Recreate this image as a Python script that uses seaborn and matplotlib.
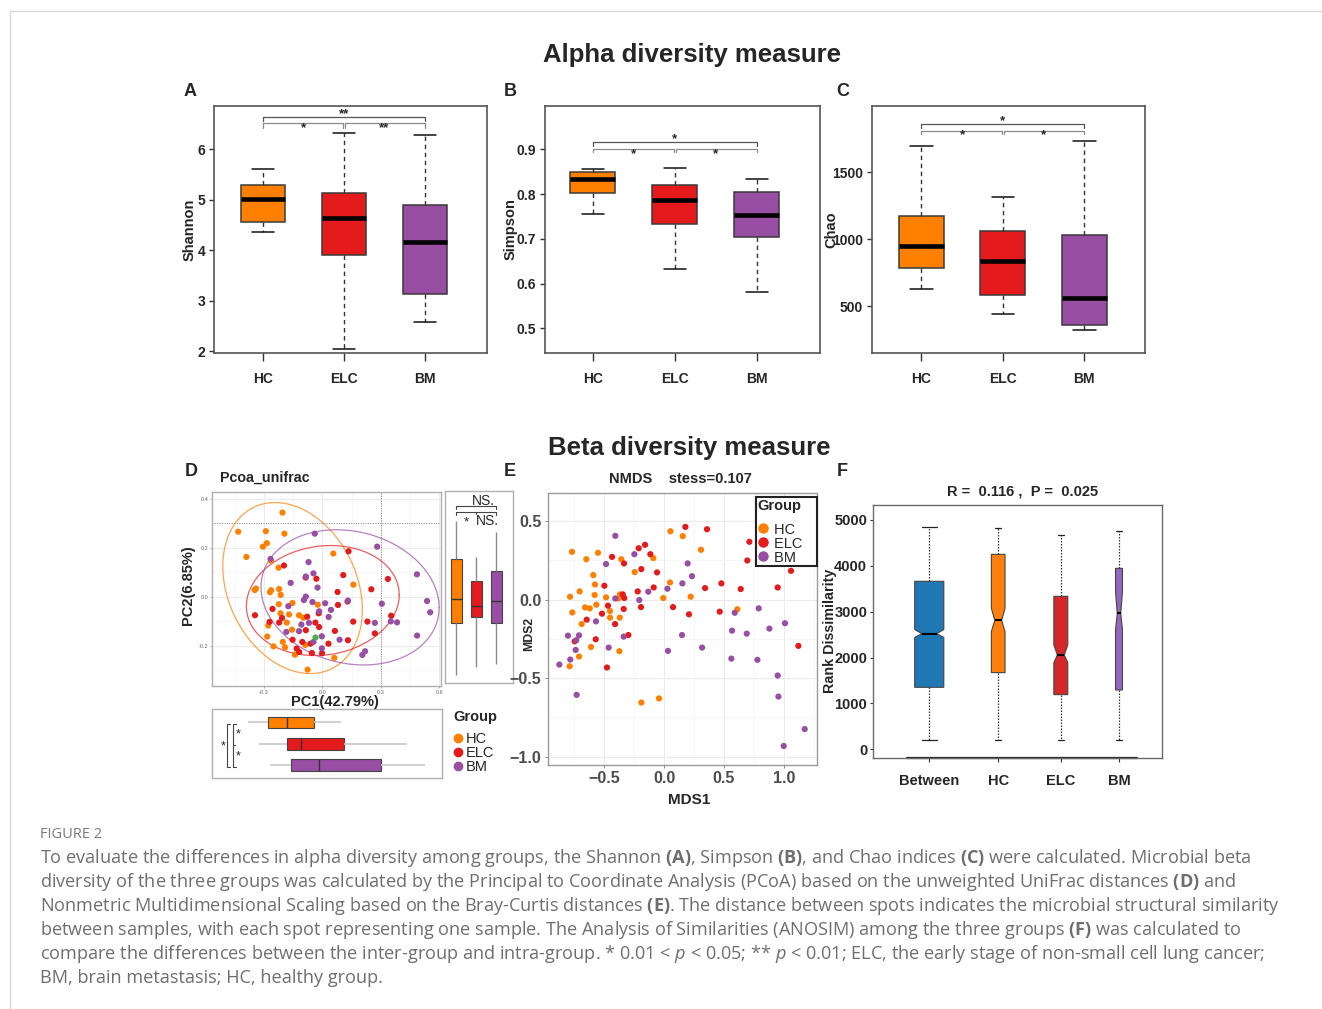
import numpy as np
import pandas as pd
import matplotlib
matplotlib.use("Agg")
import matplotlib.pyplot as plt
import seaborn as sns
from matplotlib.lines import Line2D

# ------------------------------------------------------------------ data
GROUPS = ["HC", "ELC", "BM"]
PAL = {"HC": "#FF7F00", "ELC": "#E41A1C", "BM": "#984EA3"}

# five-number summaries: [low whisker, Q1, median, Q3, high whisker]
SHANNON = {"HC": [4.37, 4.57, 5.02, 5.29, 5.60],
           "ELC": [2.04, 3.90, 4.64, 5.14, 6.32],
           "BM": [2.58, 3.14, 4.16, 4.90, 6.28]}
SIMPSON = {"HC": [0.756, 0.803, 0.834, 0.849, 0.856],
           "ELC": [0.632, 0.733, 0.787, 0.821, 0.858],
           "BM": [0.582, 0.705, 0.754, 0.804, 0.833]}
CHAO = {"HC": [631, 788, 945, 1172, 1694],
        "ELC": [443, 582, 836, 1060, 1318],
        "BM": [324, 358, 562, 1030, 1736]}

# PCoA (unweighted UniFrac) sample coordinates
D_HC_X = [-0.205, -0.432, -0.290, -0.195, -0.285, -0.305, -0.390, -0.264, -0.225, 0.056, 0.159, -0.347,
          -0.341, -0.263, -0.222, -0.269, -0.214, -0.224, -0.154, -0.024, -0.215, -0.171, -0.120, -0.098,
          -0.183, -0.278, -0.156, -0.283, -0.203, -0.251, -0.192, -0.088, -0.141, 0.061, -0.076]
D_HC_Y = [0.343, 0.265, 0.267, 0.257, 0.218, 0.204, 0.162, 0.147, 0.118, 0.176, 0.049, 0.027,
          0.033, 0.026, 0.031, 0.018, 0.007, -0.031, -0.026, -0.033, -0.068, -0.073, -0.076, -0.086,
          -0.106, -0.118, -0.135, -0.163, -0.185, -0.203, -0.207, -0.197, -0.237, -0.250, -0.298]
D_ELC_X = [0.134, -0.197, 0.107, -0.031, -0.086, 0.336, 0.251, 0.078, 0.129, 0.080, -0.256, -0.346,
           -0.207, -0.078, -0.271, -0.222, -0.036, -0.017, 0.158, 0.231, 0.353, -0.085, 0.064, 0.269,
           -0.153, -0.103, 0.131, 0.031, -0.132, -0.119, -0.054, -0.002, -0.061, -0.019]
D_ELC_Y = [0.185, 0.127, 0.088, 0.073, 0.078, 0.072, 0.030, 0.019, -0.020, -0.034, -0.050, -0.076,
           -0.087, -0.082, -0.103, -0.106, -0.106, -0.124, -0.102, -0.102, -0.078, -0.137, -0.140, -0.150,
           -0.176, -0.185, -0.178, -0.192, -0.212, -0.226, -0.230, -0.231, -0.192, -0.068]
D_BM_X = [-0.039, 0.281, -0.266, -0.071, -0.046, -0.085, -0.163, -0.025, -0.085, -0.095, -0.051, 0.014,
          0.131, -0.175, -0.017, 0.044, 0.032, 0.305, 0.485, 0.537, 0.553, 0.351, 0.269, 0.383,
          -0.108, -0.069, -0.185, -0.120, -0.003, -0.046, 0.088, -0.003, 0.219, 0.205, 0.486]
D_BM_Y = [0.257, 0.204, 0.154, 0.141, 0.095, 0.082, 0.056, 0.037, 0.000, -0.014, -0.022, -0.027,
          -0.016, -0.039, -0.060, -0.054, -0.083, -0.029, 0.091, -0.018, -0.064, -0.101, -0.107, -0.105,
          -0.114, -0.107, -0.144, -0.141, -0.162, -0.185, -0.176, -0.211, -0.223, -0.238, -0.159]
D_GREEN_X = [-0.039]
D_GREEN_Y = [-0.166]

# confidence ellipses: [centre x, centre y, half-width x, half-height y, xy term]
D_ELLIPSE = {"HC": [-0.153, 0.035, 0.358, 0.349, -0.0315],
             "ELC": [0.002, -0.016, 0.392, 0.2245, 0.009],
             "BM": [0.142, -0.003, 0.457, 0.276, -0.019]}

# marginal box summaries (PC2 on the right, PC1 below)
D_PC2 = {"HC": [-0.321, -0.109, -0.009, 0.155, 0.308],
         "ELC": [-0.288, -0.083, -0.039, 0.063, 0.162],
         "BM": [-0.275, -0.107, -0.019, 0.104, 0.263]}
D_PC1 = {"HC": [-0.384, -0.278, -0.184, -0.046, 0.092],
         "ELC": [-0.324, -0.181, -0.113, 0.111, 0.430],
         "BM": [-0.268, -0.162, -0.017, 0.297, 0.523]}

# NMDS (Bray-Curtis) coordinates
E_HC_X = [-0.767, -0.647, -0.550, -0.356, -0.089, 0.053, 0.156, 0.308, -0.244, 0.050, -0.589, -0.575,
          -0.703, -0.783, -0.578, -0.483, -0.367, -0.381, -0.006, 0.222, -0.764, -0.658, -0.619, -0.564,
          -0.450, -0.450, -0.369, -0.686, -0.608, -0.708, -0.372, -0.786, -0.189, -0.042, 0.611]
E_HC_Y = [0.305, 0.258, 0.299, 0.258, 0.265, 0.436, 0.405, 0.318, 0.176, 0.110, 0.157, 0.097,
          0.053, 0.019, 0.030, 0.015, 0.034, 0.008, 0.011, 0.019, -0.081, -0.049, -0.055, -0.032,
          -0.072, -0.114, -0.114, -0.155, -0.301, -0.362, -0.328, -0.424, -0.655, -0.629, -0.061]
E_ELC_X = [0.178, 0.358, -0.158, -0.211, -0.114, -0.433, -0.333, -0.189, -0.058, -0.086, -0.219, -0.497,
           -0.344, -0.331, -0.467, -0.192, -0.336, -0.517, -0.408, -0.644, -0.297, -0.569, -0.744, -0.475,
           0.075, 0.208, 0.342, 0.478, 0.639, 0.464, 0.711, 0.694, 0.947, 1.058, 1.119]
E_ELC_Y = [0.464, 0.449, 0.350, 0.328, 0.290, 0.273, 0.231, 0.195, 0.174, 0.078, 0.053, 0.089,
           0.034, 0.011, -0.038, -0.047, -0.059, -0.089, -0.155, -0.127, -0.225, -0.252, -0.265, -0.432,
           -0.047, -0.093, 0.074, 0.104, 0.068, -0.076, 0.369, 0.250, 0.078, 0.184, -0.294]
E_BM_X = [-0.406, -0.247, -0.483, 0.197, 0.233, 0.153, 0.028, -0.131, -0.206, -0.406, 0.589, 0.789,
          -0.567, -0.800, -0.708, -0.731, -0.736, -0.781, -0.872, -0.728, -0.336, -0.461, 0.033, 0.150,
          0.317, 0.567, 0.689, 0.878, 1.008, 0.561, 0.778, 0.947, 0.953, 1.172, 0.997]
E_BM_Y = [0.407, 0.290, 0.227, 0.231, 0.150, 0.104, 0.070, 0.051, -0.002, 0.008, -0.083, -0.055,
          -0.138, -0.229, -0.227, -0.258, -0.320, -0.381, -0.413, -0.606, -0.235, -0.305, -0.326, -0.225,
          -0.305, -0.197, -0.216, -0.184, -0.150, -0.375, -0.383, -0.483, -0.617, -0.824, -0.932]

# ANOSIM rank dissimilarity
F_GROUPS = ["Between", "HC", "ELC", "BM"]
F_COLORS = ["#1f77b4", "#ff7f0e", "#d62728", "#9467bd"]
F_LOW = [203, 203, 203, 203]
F_Q1 = [1352, 1672, 1192, 1294]
F_MED = [2522, 2812, 2057, 2965]
F_Q3 = [3663, 4251, 3336, 3946]
F_HIGH = [4840, 4818, 4673, 4767]
F_CILO = [2440, 2565, 1890, 2602]
F_CIHI = [2610, 3074, 2275, 3437]

CAPTION = [
    r"To evaluate the differences in alpha diversity among groups, the Shannon $\mathbf{(A)}$, Simpson $\mathbf{(B)}$, and Chao indices $\mathbf{(C)}$ were calculated. Microbial beta",
    r"diversity of the three groups was calculated by the Principal to Coordinate Analysis (PCoA) based on the unweighted UniFrac distances $\mathbf{(D)}$ and",
    r"Nonmetric Multidimensional Scaling based on the Bray-Curtis distances $\mathbf{(E)}$. The distance between spots indicates the microbial structural similarity",
    r"between samples, with each spot representing one sample. The Analysis of Similarities (ANOSIM) among the three groups $\mathbf{(F)}$ was calculated to",
    r"compare the differences between the inter-group and intra-group. * 0.01 < $\mathit{p}$ < 0.05; ** $\mathit{p}$ < 0.01; ELC, the early stage of non-small cell lung cancer;",
    r"BM, brain metastasis; HC, healthy group.",
]

# ------------------------------------------------------------------ style
sns.set_theme(style="white")
plt.rcParams["font.family"] = ["Liberation Sans", "DejaVu Sans"]
plt.rcParams["mathtext.fontset"] = "custom"
plt.rcParams["mathtext.rm"] = "Open Sans"
plt.rcParams["mathtext.bf"] = "Open Sans:bold"
plt.rcParams["mathtext.it"] = "Open Sans:italic"

W, H = 1322, 1009
fig = plt.figure(figsize=(W / 100, H / 100), dpi=100)
fig.patch.set_facecolor("white")


def px_axes(x0, y0, x1, y1):
    return fig.add_axes([x0 / W, 1 - y1 / H, (x1 - x0) / W, (y1 - y0) / H])


def ftext(x, y, s, **kw):
    return fig.text(x / W, 1 - y / H, s, **kw)


def five_df(summary, key="value"):
    return pd.DataFrame({"group": np.repeat(GROUPS, 5),
                         key: np.concatenate([summary[g] for g in GROUPS])})


# card frame
fig.add_artist(Line2D([10 / W, 1], [1 - 11 / H] * 2, color="#d9d9d9", lw=1))
fig.add_artist(Line2D([10 / W] * 2, [0, 1 - 11 / H], color="#d9d9d9", lw=1))

ftext(692, 55, "Alpha diversity measure", ha="center", va="center", weight="bold", size=18.5)
ftext(689, 448, "Beta diversity measure", ha="center", va="center", weight="bold", size=18.5)


# ------------------------------------------------------------------ alpha panels
def alpha_panel(box, summary, xlim, ylim, yticks, ylabel, ylab_x, br):
    ax = px_axes(*box)
    sns.boxplot(data=five_df(summary), x="group", y="value", hue="group", order=GROUPS,
                hue_order=GROUPS, palette=PAL, whis=np.inf, width=0.55, linewidth=1.1,
                linecolor="#3a3a3a", fliersize=0, legend=False, saturation=1,
                whiskerprops=dict(color="#333333", linestyle=(0, (3.2, 2.6)), linewidth=1.0),
                capprops=dict(color="#111111", linewidth=1.1),
                medianprops=dict(color="black", linewidth=3.3),
                ax=ax)
    ax.set_xlim(*xlim)
    ax.set_ylim(*ylim)
    ax.set_yticks(yticks)
    ax.set_yticklabels([str(t) for t in yticks])
    for s in ax.spines.values():
        s.set_visible(True)
        s.set_color("#555555")
        s.set_linewidth(1.2)
    ax.tick_params(axis="y", direction="out", length=3.8, width=1, color="#333333",
                   labelsize=10, pad=2.5, left=True)
    ax.tick_params(axis="x", direction="out", length=5.5, width=1, color="#333333",
                   labelsize=10, pad=8, bottom=True)
    for lab in ax.get_xticklabels() + ax.get_yticklabels():
        lab.set_fontweight("bold")
    ax.set_xlabel("")
    ax.set_ylabel(ylabel, weight="bold", size=10.5)
    ax.yaxis.set_label_coords(ylab_x, 0.5)
    # significance brackets
    top, topd, low, lowd, st_top, st_low, labs = br
    ax.plot([0, 0, 2, 2], [topd, top, top, topd], color="#555555", lw=0.9)
    ax.plot([0, 0, 0.985, 0.985], [lowd, low, low, lowd], color="#8a8a8a", lw=0.9)
    ax.plot([1.015, 1.015, 2, 2], [lowd, low, low, lowd], color="#8a8a8a", lw=0.9)
    ax.text(1, st_top, labs[0], ha="center", va="center", size=9.5, weight="bold")
    ax.text(0.5, st_low, labs[1], ha="center", va="center", size=9.5, weight="bold")
    ax.text(1.5, st_low, labs[2], ha="center", va="center", size=9.5, weight="bold")
    return ax


alpha_panel((214, 106, 487, 353), SHANNON, (-0.609, 2.77), (1.968, 6.856), [2, 3, 4, 5, 6],
            "Shannon", -0.062, (6.63, 6.55, 6.51, 6.43, 6.70, 6.41, ["**", "*", "**"]))
alpha_panel((545, 106, 820, 353), SIMPSON, (-0.585, 2.77), (0.445, 0.9965), [0.5, 0.6, 0.7, 0.8, 0.9],
            "Simpson", -0.098, (0.9156, 0.908, 0.900, 0.893, 0.9225, 0.889, ["*", "*", "*"]))
alpha_panel((872, 106, 1145, 353), CHAO, (-0.605, 2.744), (149, 1995), [500, 1000, 1500],
            "Chao", -0.123, (1858, 1833, 1811, 1786, 1880, 1780, ["*", "*", "*"]))

for (x, y, s) in [(190, 91, "A"), (510, 91, "B"), (843, 91, "C"),
                  (191, 471, "D"), (510, 471, "E"), (842, 471, "F")]:
    ftext(x, y, s, ha="center", va="center", weight="bold", size=13)

# ------------------------------------------------------------------ D: PCoA
axd = px_axes(211.7, 492, 440.7, 686.3)
dfd = pd.concat([
    pd.DataFrame({"x": D_HC_X, "y": D_HC_Y, "group": "HC"}),
    pd.DataFrame({"x": D_ELC_X, "y": D_ELC_Y, "group": "ELC"}),
    pd.DataFrame({"x": D_BM_X, "y": D_BM_Y, "group": "BM"}),
], ignore_index=True)
axd.set_xlim(-0.568, 0.607)
axd.set_ylim(-0.366, 0.427)
axd.set_xticks([-0.3, 0.0, 0.3, 0.6])
axd.set_xticklabels(["-0.3", "0.0", "0.3", "0.6"])
axd.set_xticks([-0.45, -0.15, 0.15, 0.45], minor=True)
axd.set_yticks([-0.2, 0.0, 0.2, 0.4])
axd.set_yticklabels(["-0.2", "0.0", "0.2", "0.4"])
axd.set_yticks([-0.3, -0.1, 0.1, 0.3], minor=True)
axd.grid(which="major", color="#ebebeb", lw=0.8)
axd.grid(which="minor", color="#f3f3f3", lw=0.5)
axd.set_axisbelow(True)
axd.tick_params(which="major", labelsize=4, labelcolor="#666666", length=1.5, width=0.5,
                color="#888888", pad=1, left=True, bottom=True)
axd.tick_params(which="minor", length=0)
for s in axd.spines.values():
    s.set_color("#b0b0b0")
    s.set_linewidth(1.0)
axd.axhline(0.3, color="#888888", lw=0.7, ls=(0, (1, 1.5)))
axd.axvline(0.3, color="#888888", lw=0.7, ls=(0, (1, 1.5)))

theta = np.linspace(0, 2 * np.pi, 160)
unit = np.column_stack([np.cos(theta), np.sin(theta)])
for g in GROUPS:
    cx, cy, hx, hy, sxy = D_ELLIPSE[g]
    L = np.linalg.cholesky(np.array([[hx ** 2, sxy], [sxy, hy ** 2]]))
    ell = np.array([cx, cy]) + unit @ L.T
    axd.plot(ell[:, 0], ell[:, 1], color=PAL[g], lw=0.9, alpha=0.7)

sns.scatterplot(data=dfd, x="x", y="y", hue="group", palette=PAL, s=20, linewidth=0,
                legend=False, ax=axd, zorder=3)
sns.scatterplot(x=D_GREEN_X, y=D_GREEN_Y, color="#4DAF4A", s=20, linewidth=0, ax=axd, zorder=3)
axd.set_xlabel("")
axd.set_ylabel("")
ftext(220, 478, "Pcoa_unifrac", ha="left", va="center", weight="bold", size=10.3)
ftext(335, 702, "PC1(42.79%)", ha="center", va="center", weight="bold", size=10.5)
ftext(188, 585, "PC2(6.85%)", ha="center", va="center", weight="bold", size=10.5, rotation=90)

# right marginal (PC2)
axr = px_axes(444.7, 491.3, 512.7, 683)
sns.boxplot(data=five_df(D_PC2), x="group", y="value", hue="group", order=GROUPS, hue_order=GROUPS,
            palette=PAL, whis=np.inf, width=0.55, linewidth=0.8, linecolor="#444444", fliersize=0,
            legend=False, saturation=1,
            whiskerprops=dict(color="#8c8c8c", linewidth=1.0),
            capprops=dict(linewidth=0),
            medianprops=dict(color="#333333", linewidth=1.0), ax=axr)
axr.set_xlim(-0.565, 2.835)
axr.set_ylim(-0.352, 0.430)
axr.set_xticks([])
axr.set_yticks([])
axr.set_xlabel("")
axr.set_ylabel("")
for s in axr.spines.values():
    s.set_color("#b0b0b0")
    s.set_linewidth(1.0)
axr.plot([0, 0, 2, 2], [0.358, 0.370, 0.370, 0.358], color="#444444", lw=0.8)
axr.plot([0, 0, 2, 2], [0.334, 0.346, 0.346, 0.334], color="#444444", lw=0.8)
axr.plot([1, 1], [0.346, 0.336], color="#444444", lw=0.8)
axr.text(1.37, 0.392, "NS.", ha="center", va="center", size=10)
axr.text(0.5, 0.303, "*", ha="center", va="center", size=9.5)
axr.text(1.55, 0.308, "NS.", ha="center", va="center", size=10)

# bottom marginal (PC1)
axb = px_axes(211.7, 709, 441.7, 777.7)
sns.boxplot(data=five_df(D_PC1), y="group", x="value", hue="group", order=GROUPS, hue_order=GROUPS,
            palette=PAL, whis=np.inf, width=0.55, linewidth=0.8, linecolor="#444444", fliersize=0,
            legend=False, saturation=1, orient="y",
            whiskerprops=dict(color="#c8c8c8", linewidth=1.2),
            capprops=dict(linewidth=0),
            medianprops=dict(color="#333333", linewidth=1.0), ax=axb)
axb.set_xlim(-0.568, 0.609)
axb.set_ylim(2.6, -0.635)
axb.set_xticks([])
axb.set_yticks([])
axb.set_xlabel("")
axb.set_ylabel("")
for s in axb.spines.values():
    s.set_color("#b0b0b0")
    s.set_linewidth(1.0)
axb.plot([-0.474, -0.488, -0.488, -0.474], [0.07, 0.07, 2.09, 2.09], color="#444444", lw=0.8)
axb.plot([-0.443, -0.457, -0.457, -0.443], [0.07, 0.07, 2.09, 2.09], color="#444444", lw=0.8)
axb.plot([-0.457, -0.447], [1.06, 1.06], color="#444444", lw=0.8)
axb.text(-0.508, 1.15, "*", ha="center", va="center", size=9)
axb.text(-0.43, 0.55, "*", ha="center", va="center", size=9)
axb.text(-0.43, 1.62, "*", ha="center", va="center", size=9)

handles = [Line2D([], [], marker="o", ls="", markersize=7, markerfacecolor=PAL[g],
                  markeredgewidth=0) for g in GROUPS]
legd = fig.legend(handles, GROUPS, title="Group", loc="upper left",
                  bbox_to_anchor=(443 / W, 1 - 699.5 / H), frameon=False, alignment="left",
                  title_fontproperties={"weight": "bold", "size": 10.5}, fontsize=10.5,
                  handlelength=0.6, handletextpad=0.25, labelspacing=0.0, borderpad=0.2)
legd._legend_box.sep = 6

# ------------------------------------------------------------------ E: NMDS
axe = px_axes(547.7, 493.3, 816.7, 765)
dfe = pd.concat([
    pd.DataFrame({"x": E_HC_X, "y": E_HC_Y, "group": "HC"}),
    pd.DataFrame({"x": E_ELC_X, "y": E_ELC_Y, "group": "ELC"}),
    pd.DataFrame({"x": E_BM_X, "y": E_BM_Y, "group": "BM"}),
], ignore_index=True)
sns.scatterplot(data=dfe, x="x", y="y", hue="group", palette=PAL, s=20, linewidth=0,
                legend=False, ax=axe, zorder=3)
axe.set_xlim(-0.969, 1.272)
axe.set_ylim(-1.053, 0.678)
axe.set_xticks([-0.5, 0.0, 0.5, 1.0])
axe.set_xticklabels(["\u22120.5", "0.0", "0.5", "1.0"])
axe.set_xticks([-0.75, -0.25, 0.25, 0.75, 1.25], minor=True)
axe.set_yticks([-1.0, -0.5, 0.0, 0.5])
axe.set_yticklabels(["\u22121.0", "\u22120.5", "0.0", "0.5"])
axe.set_yticks([-0.75, -0.25, 0.25], minor=True)
axe.grid(which="major", color="#ebebeb", lw=0.8)
axe.grid(which="minor", color="#f4f4f4", lw=0.5)
axe.set_axisbelow(True)
axe.tick_params(which="major", labelsize=11.5, labelcolor="#4d4d4d", length=2.5, width=0.6,
                color="#777777", pad=2, left=True, bottom=True)
axe.tick_params(which="minor", length=0)
for lab in axe.get_xticklabels() + axe.get_yticklabels():
    lab.set_fontweight("bold")
for s in axe.spines.values():
    s.set_color("#9a9a9a")
    s.set_linewidth(1.0)
axe.set_xlabel("")
axe.set_ylabel("")
ftext(689, 800, "MDS1", ha="center", va="center", weight="bold", size=11)
ftext(529, 634, "MDS2", ha="center", va="center", weight="bold", size=8.8, rotation=90)
ftext(680, 479, "NMDS    stess=0.107", ha="center", va="center", weight="bold", size=10.5)
hdl_e = [Line2D([], [], marker="o", ls="", markersize=7.5, markerfacecolor=PAL[g],
                markeredgewidth=0) for g in GROUPS]
lege = axe.legend(hdl_e, [g + "   " for g in GROUPS], title="Group", loc="upper right",
                  bbox_to_anchor=(1.0, 0.986),
                  frameon=True, fancybox=False, alignment="left", framealpha=1,
                  title_fontproperties={"weight": "bold", "size": 10.5}, fontsize=10.5,
                  handlelength=0.7, handletextpad=0.45, labelspacing=0.0, borderpad=0.12,
                  borderaxespad=0)
lege._legend_box.sep = 7
lege.get_frame().set_edgecolor("#222222")
lege.get_frame().set_linewidth(1.5)
lege.set_zorder(5)

# ------------------------------------------------------------------ F: ANOSIM
axf = px_axes(872.7, 505, 1161.7, 757.7)
F_POS = [1.0, 2.09, 3.08, 4.0]
F_WID = [0.46, 0.216, 0.22, 0.11]
F_CAP = [0.24, 0.1, 0.1, 0.08]
stats = [dict(label=g, whislo=lo, q1=q1, med=md, q3=q3, whishi=hi, cilo=cl, cihi=ch, fliers=[])
         for g, lo, q1, md, q3, hi, cl, ch in zip(F_GROUPS, F_LOW, F_Q1, F_MED, F_Q3, F_HIGH, F_CILO, F_CIHI)]
bp = axf.bxp(stats, positions=F_POS, widths=F_WID, capwidths=F_CAP, patch_artist=True,
             shownotches=True, showfliers=False, manage_ticks=False,
             boxprops=dict(edgecolor="#444444", linewidth=0.8),
             whiskerprops=dict(color="#333333", linestyle=(0, (1.2, 1.2)), linewidth=0.9),
             capprops=dict(color="#222222", linewidth=0.9),
             medianprops=dict(color="black", linewidth=1.5))
for patch, c in zip(bp["boxes"], F_COLORS):
    patch.set_facecolor(c)
axf.set_xlim(0.106, 4.675)
axf.set_ylim(-183, 5327)
axf.set_xticks(F_POS)
axf.set_xticklabels(F_GROUPS)
axf.set_yticks([0, 1000, 2000, 3000, 4000, 5000])
axf.set_yticklabels(["0", "1000", "2000", "3000", "4000", "5000"])
axf.tick_params(axis="y", labelsize=10.5, length=2.5, width=0.8, color="#333333", pad=1.5, left=True)
axf.tick_params(axis="x", labelsize=10.5, length=3, width=0.8, color="#333333", pad=9, bottom=True)
for lab in axf.get_xticklabels() + axf.get_yticklabels():
    lab.set_fontweight("bold")
for s in axf.spines.values():
    s.set_visible(True)
    s.set_color("#6a6a6a")
    s.set_linewidth(1.0)
axf.axhline(-183, xmin=0.119, xmax=0.915, color="#222222", lw=1.6, clip_on=False)
axf.set_ylabel("Rank Dissimilarity", size=10.3, weight="bold")
axf.yaxis.set_label_coords(-0.122, 0.5)
ftext(1023, 492, "R =  0.116 ,  P =  0.025", ha="center", va="center", weight="bold", size=10.5)

# ------------------------------------------------------------------ caption
ftext(40, 835, "FIGURE 2", ha="left", va="center", size=10.5, color="#7a7a7a", family="Open Sans")
for i, line in enumerate(CAPTION):
    ftext(40, 858 + 24 * i, line, ha="left", va="center", size=13.1, color="#6e6e6e",
          family="Open Sans")

fig.savefig("out.png", dpi=100)
